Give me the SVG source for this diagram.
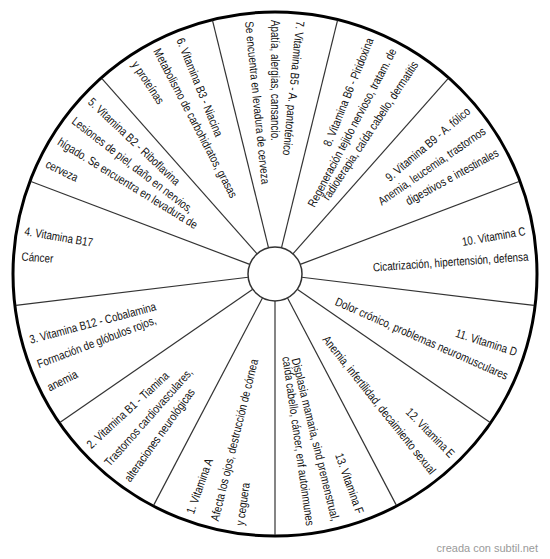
<svg xmlns="http://www.w3.org/2000/svg" width="550" height="559" viewBox="0 0 550 559">
<style>
  text { font-family: "Liberation Sans", Arial, sans-serif; font-size: 12px; fill: #111; dominant-baseline: central; }
  .r { text-anchor: end; }
  .l { text-anchor: start; }
  .spoke { stroke: #333; stroke-width: 1.2; }
  .wm { font-size: 11px; fill: #9a9a9a; dominant-baseline: alphabetic; text-anchor: end; }
</style>
<rect width="550" height="559" fill="#fff"/>
<circle id="outer" cx="275" cy="274" r="262" fill="#fff" stroke="#000" stroke-width="3"/>
<g id="connectors">
  <line class="spoke" x1="281.46" y1="247.78" x2="337.46" y2="20.58"/>
  <line class="spoke" x1="292.90" y1="253.79" x2="448.07" y2="78.64"/>
  <line class="spoke" x1="300.25" y1="264.43" x2="519.04" y2="181.45"/>
  <line class="spoke" x1="301.80" y1="277.25" x2="534.10" y2="305.46"/>
  <line class="spoke" x1="297.22" y1="289.34" x2="489.80" y2="422.26"/>
  <line class="spoke" x1="287.55" y1="297.91" x2="396.29" y2="505.11"/>
  <line class="spoke" x1="275" y1="301" x2="275" y2="535"/>
  <line class="spoke" x1="262.45" y1="297.91" x2="153.71" y2="505.11"/>
  <line class="spoke" x1="252.78" y1="289.34" x2="60.20" y2="422.26"/>
  <line class="spoke" x1="248.20" y1="277.25" x2="15.90" y2="305.46"/>
  <line class="spoke" x1="249.75" y1="264.43" x2="30.96" y2="181.45"/>
  <line class="spoke" x1="257.10" y1="253.79" x2="101.93" y2="78.64"/>
  <line class="spoke" x1="268.54" y1="247.78" x2="212.54" y2="20.58"/>
</g>
<circle id="hub" cx="275" cy="274" r="27" fill="#fff" stroke="#333" stroke-width="1.5"/>
<g id="s1">
  <text class="l" transform="rotate(-70.35 275 274) translate(21 274) scale(0.82 1)">1. Vitamina A</text>
  <text class="l" transform="rotate(-76.15 275 274) translate(21 274) scale(0.82 1)">Afecta los ojos, destrucción de córnea</text>
  <text class="l" transform="rotate(-81.95 275 274) translate(21 274) scale(0.82 1)">y ceguera</text>
</g>
<g id="s2">
  <text class="l" transform="rotate(-42.66 275 274) translate(21 274) scale(0.82 1)">2. Vitamina B1 - Tiamina</text>
  <text class="l" transform="rotate(-48.46 275 274) translate(21 274) scale(0.82 1)">Trastornos cardiovasculares,</text>
  <text class="l" transform="rotate(-54.26 275 274) translate(21 274) scale(0.82 1)">alteraciones neurológicas</text>
</g>
<g id="s3">
  <text class="l" transform="rotate(-14.97 275 274) translate(21 274) scale(0.82 1)">3. Vitamina B12 - Cobalamina</text>
  <text class="l" transform="rotate(-20.77 275 274) translate(21 274) scale(0.82 1)">Formación de glóbulos rojos,</text>
  <text class="l" transform="rotate(-26.57 275 274) translate(21 274) scale(0.82 1)">anemia</text>
</g>
<g id="s4">
  <text class="l" transform="rotate(9.82 275 274) translate(21 274) scale(0.82 1)">4. Vitamina B17</text>
  <text class="l" transform="rotate(4.02 275 274) translate(21 274) scale(0.82 1)">Cáncer</text>
</g>
<g id="s5">
  <text class="l" transform="rotate(43.32 275 274) translate(21 274) scale(0.82 1)">5. Vitamina B2 - Riboflavina</text>
  <text class="l" transform="rotate(37.52 275 274) translate(21 274) scale(0.82 1)">Lesiones de piel, daño en nervios,</text>
  <text class="l" transform="rotate(31.72 275 274) translate(21 274) scale(0.82 1)">hígado. Se encuentra en levadura de</text>
  <text class="l" transform="rotate(25.92 275 274) translate(21 274) scale(0.82 1)">cerveza</text>
</g>
<g id="s6">
  <text class="l" transform="rotate(68.11 275 274) translate(21 274) scale(0.82 1)">6. Vitamina B3 - Niacina</text>
  <text class="l" transform="rotate(62.31 275 274) translate(21 274) scale(0.82 1)">Metabolismo de carbohidratos, grasas</text>
  <text class="l" transform="rotate(56.51 275 274) translate(21 274) scale(0.82 1)">y proteínas</text>
</g>
<g id="s7">
  <text class="l" transform="rotate(95.8 275 274) translate(21 274) scale(0.82 1)">7. Vitamina B5 - A. pantoténico</text>
  <text class="l" transform="rotate(90 275 274) translate(21 274) scale(0.82 1)">Apatía, alergias, cansancio.</text>
  <text class="l" transform="rotate(84.2 275 274) translate(21 274) scale(0.82 1)">Se encuentra en levadura de cerveza</text>
</g>
<g id="s8">
  <text class="r" transform="rotate(-68.11 275 274) translate(529 274) scale(0.82 1)">8. Vitamina B6 - Piridoxina</text>
  <text class="r" transform="rotate(-62.31 275 274) translate(529 274) scale(0.82 1)">Regeneración tejido nervioso, tratam. de</text>
  <text class="r" transform="rotate(-56.51 275 274) translate(529 274) scale(0.82 1)">radioterapia, caída cabello, dermatitis</text>
</g>
<g id="s9">
  <text class="r" transform="rotate(-40.42 275 274) translate(529 274) scale(0.82 1)">9. Vitamina B9 - A. fólico</text>
  <text class="r" transform="rotate(-34.62 275 274) translate(529 274) scale(0.82 1)">Anemia, leucemia, trastornos</text>
  <text class="r" transform="rotate(-28.82 275 274) translate(529 274) scale(0.82 1)">digestivos e intestinales</text>
</g>
<g id="s10">
  <text class="r" transform="rotate(-9.82 275 274) translate(529 274) scale(0.82 1)">10. Vitamina C</text>
  <text class="r" transform="rotate(-4.02 275 274) translate(529 274) scale(0.82 1)">Cicatrización, hipertensión, defensa</text>
</g>
<g id="s11">
  <text class="r" transform="rotate(17.87 275 274) translate(529 274) scale(0.82 1)">11. Vitamina D</text>
  <text class="r" transform="rotate(23.67 275 274) translate(529 274) scale(0.82 1)">Dolor crónico, problemas neuromusculares</text>
</g>
<g id="s12">
  <text class="r" transform="rotate(45.56 275 274) translate(529 274) scale(0.82 1)">12. Vitamina E</text>
  <text class="r" transform="rotate(51.36 275 274) translate(529 274) scale(0.82 1)">Anemia, infertilidad, decaimiento sexual</text>
</g>
<g id="s13">
  <text class="r" transform="rotate(70.35 275 274) translate(529 274) scale(0.82 1)">13. Vitamina F</text>
  <text class="r" transform="rotate(76.15 275 274) translate(529 274) scale(0.82 1)">Displasia mamaria, sind premenstrual,</text>
  <text class="r" transform="rotate(81.95 275 274) translate(529 274) scale(0.82 1)">caída cabello, cáncer, enf autoinmunes</text>
</g>
<text class="wm" x="538" y="552">creada con subtil.net</text>
</svg>
